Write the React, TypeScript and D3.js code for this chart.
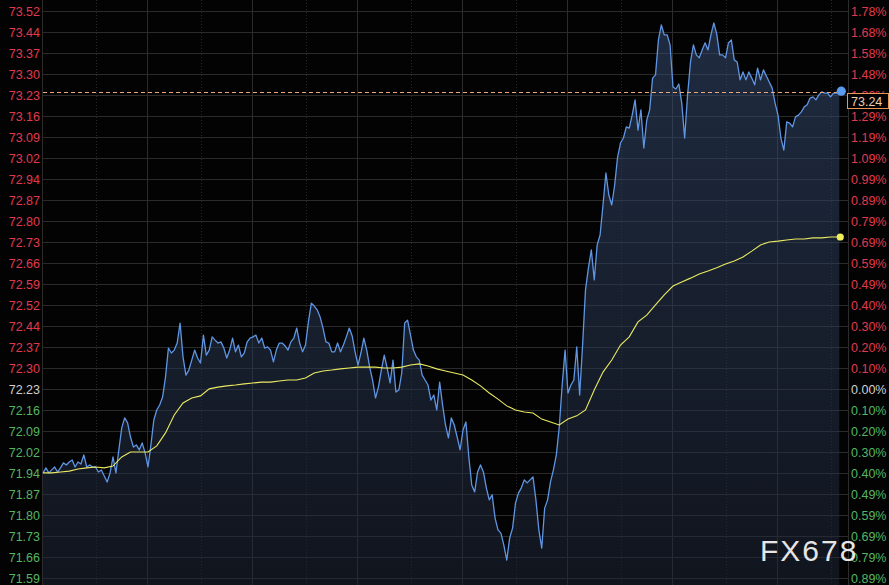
import React from 'react';
import * as d3 from 'd3';

const W = 889;
const H = 585;

// axis labels, top to bottom
const priceTicks = [
  '73.52', '73.44', '73.37', '73.30', '73.23', '73.16', '73.09', '73.02', '72.94', '72.87',
  '72.80', '72.73', '72.66', '72.59', '72.52', '72.44', '72.37', '72.30', '72.23', '72.16',
  '72.09', '72.02', '71.94', '71.87', '71.80', '71.73', '71.66', '71.59',
];
const pctTicks = [
  '1.78%', '1.68%', '1.58%', '1.48%', '1.39%', '1.29%', '1.19%', '1.09%', '0.99%', '0.89%',
  '0.79%', '0.69%', '0.59%', '0.49%', '0.40%', '0.30%', '0.20%', '0.10%', '0.00%', '0.10%',
  '0.20%', '0.30%', '0.40%', '0.49%', '0.59%', '0.69%', '0.79%', '0.89%',
];
const baseTickIndex = 18; // 72.23 = previous close

const axisTop = 73.5165;
const axisBottom = 71.586;
const sessionMinutes = 1380;
const lastPrice = 73.24;

// price, one value every 5 minutes
const priceStep = 5;
const prices = [
  71.944, 71.961, 71.944, 71.954, 71.964, 71.947, 71.961, 71.978, 71.971, 71.981,
  71.988, 71.964, 71.981, 71.974, 72.005, 71.964, 71.971, 71.964, 71.964, 71.947,
  71.954, 71.933, 71.913, 71.944, 71.998, 71.944, 72.022, 72.097, 72.131, 72.114,
  72.066, 72.032, 72.039, 72.022, 72.046, 72.012, 71.964, 72.039, 72.124, 72.158,
  72.175, 72.202, 72.270, 72.369, 72.352, 72.362, 72.386, 72.454, 72.339, 72.277,
  72.294, 72.328, 72.362, 72.335, 72.318, 72.413, 72.345, 72.362, 72.407, 72.396,
  72.386, 72.390, 72.369, 72.335, 72.362, 72.403, 72.356, 72.379, 72.339, 72.352,
  72.390, 72.403, 72.407, 72.413, 72.386, 72.403, 72.369, 72.373, 72.362, 72.322,
  72.362, 72.386, 72.386, 72.376, 72.362, 72.390, 72.403, 72.437, 72.386, 72.356,
  72.379, 72.458, 72.522, 72.512, 72.499, 72.475, 72.437, 72.390, 72.386, 72.356,
  72.356, 72.386, 72.356, 72.379, 72.407, 72.437, 72.410, 72.356, 72.311, 72.352,
  72.403, 72.362, 72.304, 72.260, 72.199, 72.236, 72.294, 72.345, 72.301, 72.250,
  72.328, 72.219, 72.226, 72.284, 72.454, 72.464, 72.413, 72.362, 72.339, 72.328,
  72.277, 72.260, 72.243, 72.192, 72.209, 72.158, 72.253, 72.175, 72.107, 72.063,
  72.131, 72.107, 72.066, 72.022, 72.090, 72.117, 71.998, 71.903, 71.879, 71.947,
  71.971, 71.947, 71.893, 71.852, 71.869, 71.790, 71.750, 71.739, 71.698, 71.647,
  71.722, 71.756, 71.841, 71.875, 71.893, 71.920, 71.910, 71.920, 71.930, 71.852,
  71.750, 71.688, 71.824, 71.852, 71.913, 71.954, 72.005, 72.100, 72.243, 72.362,
  72.216, 72.243, 72.260, 72.373, 72.209, 72.379, 72.567, 72.642, 72.703, 72.601,
  72.720, 72.754, 72.856, 72.965, 72.890, 72.856, 72.924, 73.019, 73.067, 73.084,
  73.122, 73.118, 73.162, 73.214, 73.111, 73.180, 73.050, 73.145, 73.180, 73.288,
  73.299, 73.418, 73.469, 73.435, 73.435, 73.401, 73.258, 73.251, 73.268, 73.203,
  73.084, 73.231, 73.343, 73.401, 73.367, 73.357, 73.384, 73.408, 73.384, 73.435,
  73.476, 73.438, 73.367, 73.367, 73.357, 73.408, 73.418, 73.350, 73.343, 73.282,
  73.309, 73.282, 73.309, 73.288, 73.265, 73.322, 73.282, 73.316, 73.295, 73.275,
  73.254, 73.203, 73.162, 73.084, 73.043, 73.139, 73.135, 73.122, 73.156, 73.162,
  73.173, 73.190, 73.197, 73.220, 73.224, 73.214, 73.231, 73.241, 73.237, 73.237,
  73.224, 73.237, 73.237, 73.240,
];

// average price, one value every 15 minutes
const avgStep = 15;
const avgPrices = [
  71.944, 71.944, 71.947, 71.950, 71.957, 71.961, 71.964, 71.961, 71.967, 71.998,
  72.015, 72.015, 72.015, 72.036, 72.080, 72.141, 72.182, 72.199, 72.206, 72.230,
  72.236, 72.240, 72.243, 72.247, 72.250, 72.253, 72.253, 72.257, 72.260, 72.260,
  72.267, 72.284, 72.291, 72.294, 72.298, 72.301, 72.304, 72.304, 72.304, 72.301,
  72.301, 72.304, 72.311, 72.315, 72.308, 72.298, 72.291, 72.284, 72.277, 72.260,
  72.240, 72.216, 72.195, 72.172, 72.158, 72.151, 72.148, 72.127, 72.117, 72.107,
  72.127, 72.138, 72.158, 72.226, 72.287, 72.328, 72.379, 72.407, 72.458, 72.481,
  72.516, 72.550, 72.580, 72.594, 72.607, 72.621, 72.631, 72.642, 72.655, 72.665,
  72.679, 72.699, 72.720, 72.730, 72.733, 72.737, 72.740, 72.740, 72.744, 72.744,
  72.747, 72.747,
];

const FONT = "Arial, 'Liberation Sans', sans-serif";
const RED = '#e03a4e';
const GREEN = '#55b563';
const GREY = '#cfcfcf';

export default function App() {
  const plotL = 43;
  const plotR = 848;

  const x = d3.scaleLinear().domain([0, sessionMinutes]).range([plotL, plotR]);
  const y = d3.scaleLinear().domain([axisBottom, axisTop]).range([578, 11]);

  const tickStep = (axisTop - axisBottom) / (priceTicks.length - 1);
  const tickY = priceTicks.map((_, i) => y(axisTop - i * tickStep));

  const majors = d3.range(0, sessionMinutes, 180);
  const minors = d3.range(90, sessionMinutes, 180);

  const line = d3.line<number>()
    .x((_, i) => x(i * priceStep))
    .y(d => y(d));
  const area = d3.area<number>()
    .x((_, i) => x(i * priceStep))
    .y0(H)
    .y1(d => y(d));
  const avgLine = d3.line<number>()
    .x((_, i) => x(i * avgStep))
    .y(d => y(d));

  const lastX = x((prices.length - 1) * priceStep);
  const lastY = y(prices[prices.length - 1]);
  const avgLastX = x((avgPrices.length - 1) * avgStep);
  const avgLastY = y(avgPrices[avgPrices.length - 1]);
  const lastLineY = y(lastPrice);

  const labelColor = (i: number) =>
    i < baseTickIndex ? RED : i === baseTickIndex ? GREY : GREEN;

  return (
    <svg width={W} height={H} style={{ position: 'fixed', left: 0, top: 0, display: 'block' }}>
      <defs>
        <linearGradient id="fill" x1="0" y1="0" x2="0" y2={H} gradientUnits="userSpaceOnUse">
          <stop offset="0" stopColor="rgb(58,82,124)" stopOpacity={0.52} />
          <stop offset="1" stopColor="rgb(30,38,56)" stopOpacity={0.5} />
        </linearGradient>
      </defs>
      <rect width={W} height={H} fill="#030303" />

      {/* grid */}
      <g shapeRendering="crispEdges">
        {minors.map(m => (
          <line key={'mi' + m} x1={Math.round(x(m)) + 0.5} x2={Math.round(x(m)) + 0.5} y1={0} y2={H}
            stroke="#262626" strokeDasharray="1,2" />
        ))}
        {majors.map(m => (
          <line key={'ma' + m} x1={Math.round(x(m)) - 0.5} x2={Math.round(x(m)) - 0.5} y1={0} y2={H}
            stroke="#2c2c2c" />
        ))}
        <line x1={plotR + 0.5} x2={plotR + 0.5} y1={0} y2={H} stroke="#2c2c2c" />
        {tickY.map((ty, i) => (
          <line key={'h' + i} x1={plotL - 1} x2={plotR} y1={Math.round(ty) + 0.5} y2={Math.round(ty) + 0.5}
            stroke="#2a2a2a" />
        ))}
      </g>

      <path d={area(prices) ?? ''} fill="url(#fill)" />
      <path d={line(prices) ?? ''} fill="none" stroke="#5f95e3" strokeWidth={1.3} strokeLinejoin="round" />
      <path d={avgLine(avgPrices) ?? ''} fill="none" stroke="#eaea62" strokeWidth={1.1} />

      <line x1={plotL} x2={plotR} y1={Math.round(lastLineY) + 0.5} y2={Math.round(lastLineY) + 0.5}
        stroke="#e8a878" strokeDasharray="4,3" shapeRendering="crispEdges" />

      <circle cx={avgLastX + 1} cy={avgLastY} r={3.6} fill="#f2ee5a" />
      <circle cx={lastX + 2} cy={lastY - 1} r={4.6} fill="#5c9cf0" />

      {/* left axis */}
      <g fontFamily={FONT} fontSize={12.5}>
        {priceTicks.map((t, i) => (
          <text key={'l' + i} x={40} y={tickY[i]} dy="0.36em" textAnchor="end" fill={labelColor(i)}>{t}</text>
        ))}
        {pctTicks.map((t, i) => (
          <text key={'r' + i} x={851} y={tickY[i]} dy="0.36em" textAnchor="start" fill={labelColor(i)}>{t}</text>
        ))}
      </g>

      {/* last price tag */}
      <rect x={plotR - 0.5} y={Math.round(lastLineY) + 1.5} width={W - plotR} height={15}
        fill="#000" stroke="#e8955a" strokeWidth={1} />
      <text x={851} y={lastLineY + 9.5} dy="0.36em" fontFamily={FONT} fontSize={12.5} fill="#f2cfae">
        {lastPrice.toFixed(2)}
      </text>

      <text x={760} y={561} fontFamily={FONT} fontSize={30} letterSpacing={2} fill="#e6e6e6">FX678</text>
    </svg>
  );
}
